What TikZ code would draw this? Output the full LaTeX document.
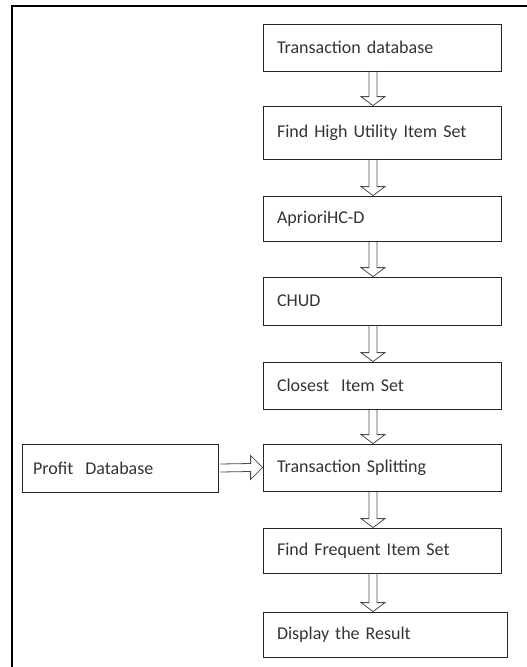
\documentclass[tikz,border=0pt]{standalone}
\usepackage{fontspec}
\setmainfont{Carlito}
\usetikzlibrary{calc}

\newcommand{\hollowdown}[2]{%
  \coordinate (s) at ($(#1.south)+(-9,0)$);
  \coordinate (t) at (s |- #2.north);
  \draw[flowarrow] ($(s)+(-4,0)$) -- ($(t)+(-4,-9)$) -- ++(-8,0) -- (t)
    -- ++(12,-9) -- ++(-8,0) -- ($(s)+(4,0)$);}

\begin{document}
\begin{tikzpicture}[x=1pt,y=-1pt,
  stepbox/.style={rectangle,draw=black!85,line width=0.8pt,text=black!80,
    font=\fontsize{18}{21}\selectfont,inner xsep=14pt,align=left,
    text width=210pt,minimum height=47pt},
  flowarrow/.style={draw=black!70,line width=0.8pt,line join=miter}]
\useasboundingbox (0,0) rectangle (527,667);
\draw[line width=1.8pt] (12,667) -- (12,6) -- (527,6);
\node[stepbox] at (382,47.5) (db) {Transaction database};
\node[stepbox,minimum height=53pt] at (382,132.5) (hui) {Find High Utility Item Set};
\node[stepbox,minimum height=45pt] at (382,218.5) (apr) {AprioriHC-D};
\node[stepbox,minimum height=48pt] at (382,301) (chud) {CHUD};
\node[stepbox] at (382,385.5) (cis) {Closest\ \ Item Set};
\node[stepbox] at (382,467.5) (split) {Transaction Splitting};
\node[stepbox,minimum height=45pt] at (382,550.5) (freq) {Find Frequent Item Set};
\node[stepbox,minimum height=45pt,text width=216pt] at (385,634.5) (res) {Display the Result};
\node[stepbox,minimum height=48pt,text width=174pt,inner xsep=11pt] at (120,468) (profit) {Profit\ \ Database};
\foreach \a/\b in {db/hui,hui/apr,apr/chud,chud/cis,cis/split,split/freq,freq/res}
  \hollowdown{\a}{\b};
\draw[flowarrow] ($(profit.east)+(2,-4)$) -- ($(split.west)+(-12,-4)$) -- ++(0,-8)
  -- (split.west) -- ++(-12,12) -- ++(0,-8) -- ($(profit.east)+(2,4)$);
\end{tikzpicture}
\end{document}
